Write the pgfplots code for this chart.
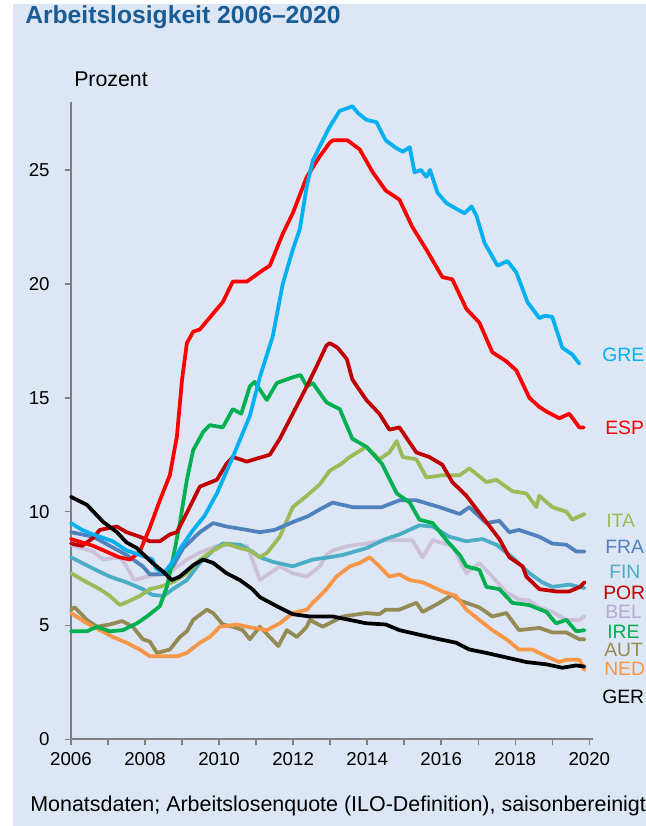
\documentclass[border=0pt]{standalone}
\usepackage{pgfplots}
\pgfplotsset{compat=1.18}
\usepackage{fontspec}
\setmainfont{Liberation Sans}
\definecolor{bgc}{HTML}{DCE6F4}
\definecolor{titlec}{HTML}{1A5C96}
\definecolor{cGRE}{HTML}{00B0F0}
\definecolor{cESP}{HTML}{FF0000}
\definecolor{cPOR}{HTML}{C00000}
\definecolor{cITA}{HTML}{9BBB59}
\definecolor{cFRA}{HTML}{4F81BD}
\definecolor{cFIN}{HTML}{4BACC6}
\definecolor{cBEL}{HTML}{CCC0DA}
\definecolor{cBELt}{HTML}{B9A8CF}
\definecolor{cIRE}{HTML}{00B050}
\definecolor{cAUT}{HTML}{948A54}
\definecolor{cNED}{HTML}{F79646}
\definecolor{cGER}{HTML}{000000}
\begin{document}
\begin{tikzpicture}[x=0.75pt,y=0.75pt]
\path[use as bounding box] (0,0) rectangle (646,826);
\begin{scope}
\clip (0,0) rectangle (646,826);
\fill[white] (0,0) rectangle (646,826);
\fill[bgc] (13,0) rectangle (646,822);
\node[anchor=base west,inner sep=0,text=titlec,font=\bfseries\fontsize{18.5}{20}\selectfont] at (25,826-24) {Arbeitslosigkeit 2006–2020};
\node[anchor=base west,inner sep=0,font=\fontsize{16}{18}\selectfont] at (74,826-87) {Prozent};
\node[anchor=base west,inner sep=0,font=\fontsize{16.1}{18}\selectfont] at (30,826-812) {Monatsdaten; Arbeitslosenquote (ILO-Definition), saisonbereinigt};
\begin{scope}[every node/.style={anchor=base west,inner sep=0,font=\fontsize{14.5}{16}\selectfont}]
\node[text=cGRE] at (602,826-362) {GRE};
\node[text=cESP] at (605,826-435) {ESP};
\node[text=cITA] at (606,826-528) {ITA};
\node[text=cFRA] at (605,826-554) {FRA};
\node[text=cFIN] at (609,826-579) {FIN};
\node[text=cPOR] at (603,826-600) {POR};
\node[text=cBELt] at (605,826-619) {BEL};
\node[text=cIRE] at (607,826-639) {IRE};
\node[text=cAUT] at (604,826-657) {AUT};
\node[text=cNED] at (604,826-676) {NED};
\node[text=cGER] at (602,826-704) {GER};
\end{scope}
\end{scope}
\begin{axis}[
  at={(53.25pt,64.875pt)}, anchor=south west,
  scale only axis, width=391.5pt, height=478.4pt,
  xmin=2006, xmax=2020.1, ymin=0, ymax=28,
  axis lines=left, axis line style={-, draw=gray, line width=1.5pt},
  xtick={2006,2008,...,2020}, minor xtick={2007,2009,...,2019},
  ytick={0,5,...,25},
  tick align=outside, major tick length=4.5pt, minor tick length=4.5pt,
  every tick/.style={draw=gray, line width=1.1pt},
  tick label style={font=\fontsize{14}{16}\selectfont},
  /pgf/number format/assume math mode=true,
  xticklabel style={/pgf/number format/1000 sep={}, yshift=-2pt},
  yticklabel style={xshift=-8pt},
  clip=false,
  every axis plot/.append style={line width=2.8pt, line join=round, line cap=round, mark=none},
]
\addplot[cBEL] coordinates {(2006.0,8.55) (2006.6,8.25) (2006.87,7.9) (2007.32,8.0) (2007.5,7.6) (2007.7,7.0) (2008.05,7.15) (2008.4,7.25) (2008.67,7.35) (2009.13,7.9) (2009.48,8.2) (2009.94,8.5) (2010.37,8.55) (2010.75,8.5) (2010.9,7.9) (2011.1,7.0) (2011.37,7.3) (2011.64,7.6) (2011.99,7.3) (2012.37,7.15) (2012.72,7.6) (2012.9,8.1) (2013.07,8.3) (2013.5,8.5) (2013.98,8.6) (2014.5,8.75) (2015.22,8.75) (2015.5,8.0) (2015.77,8.75) (2016.3,8.5) (2016.68,7.3) (2017.03,7.75) (2017.38,7.15) (2017.76,6.45) (2018.1,6.15) (2018.38,6.1) (2018.65,5.8) (2019.0,5.6) (2019.38,5.25) (2019.73,5.25) (2019.87,5.4)};
\addplot[cAUT] coordinates {(2006.0,5.7) (2006.1,5.8) (2006.43,5.25) (2006.7,4.95) (2007.05,5.05) (2007.38,5.2) (2007.67,4.95) (2007.94,4.4) (2008.13,4.3) (2008.32,3.8) (2008.67,3.95) (2008.94,4.5) (2009.13,4.75) (2009.3,5.25) (2009.67,5.7) (2009.84,5.55) (2010.1,5.05) (2010.37,4.95) (2010.64,4.8) (2010.83,4.4) (2011.1,4.95) (2011.37,4.5) (2011.6,4.1) (2011.83,4.8) (2012.1,4.5) (2012.37,4.95) (2012.45,5.25) (2012.8,4.95) (2013.34,5.4) (2013.98,5.55) (2014.33,5.5) (2014.5,5.7) (2014.87,5.7) (2015.33,6.0) (2015.5,5.6) (2015.95,6.0) (2016.3,6.35) (2016.5,6.1) (2017.03,5.8) (2017.38,5.4) (2017.76,5.55) (2018.1,4.8) (2018.65,4.9) (2019.0,4.7) (2019.38,4.7) (2019.73,4.4) (2019.87,4.4)};
\addplot[cNED] coordinates {(2006.0,5.55) (2006.43,5.1) (2006.78,4.8) (2007.13,4.5) (2007.5,4.25) (2007.86,3.95) (2008.13,3.65) (2008.5,3.65) (2008.86,3.65) (2009.13,3.8) (2009.48,4.25) (2009.75,4.5) (2010.02,4.95) (2010.48,5.05) (2010.75,4.95) (2011.29,4.8) (2011.64,5.1) (2011.99,5.55) (2012.37,5.7) (2012.53,6.0) (2012.72,6.3) (2012.9,6.6) (2013.17,7.15) (2013.53,7.6) (2013.8,7.75) (2014.07,8.0) (2014.33,7.6) (2014.6,7.15) (2014.87,7.25) (2015.15,7.0) (2015.5,6.9) (2015.77,6.7) (2016.03,6.5) (2016.4,6.3) (2016.68,5.7) (2017.03,5.25) (2017.38,4.8) (2017.76,4.4) (2018.1,3.95) (2018.46,3.95) (2018.84,3.65) (2019.19,3.4) (2019.38,3.5) (2019.73,3.5) (2019.87,3.05)};
\addplot[cFIN] coordinates {(2006.0,8.0) (2006.6,7.5) (2007.05,7.15) (2007.5,6.9) (2007.94,6.6) (2008.2,6.35) (2008.5,6.3) (2008.75,6.6) (2009.13,7.0) (2009.48,7.75) (2009.84,8.3) (2010.1,8.6) (2010.56,8.55) (2010.9,8.25) (2011.1,8.0) (2011.45,7.8) (2011.99,7.6) (2012.53,7.9) (2012.99,8.0) (2013.34,8.1) (2013.98,8.4) (2014.5,8.8) (2014.87,9.0) (2015.41,9.4) (2015.77,9.35) (2016.22,8.9) (2016.68,8.7) (2017.11,8.8) (2017.49,8.55) (2017.92,8.0) (2018.38,7.3) (2018.73,6.9) (2019.0,6.7) (2019.46,6.8) (2019.87,6.65)};
\addplot[cITA] coordinates {(2006.0,7.3) (2006.43,6.9) (2006.78,6.6) (2007.05,6.3) (2007.32,5.9) (2007.6,6.1) (2007.86,6.3) (2008.13,6.6) (2008.4,6.7) (2008.75,6.9) (2009.13,7.3) (2009.48,7.9) (2009.84,8.3) (2010.2,8.6) (2010.56,8.4) (2010.83,8.3) (2011.1,8.0) (2011.3,8.2) (2011.64,8.9) (2011.99,10.2) (2012.37,10.7) (2012.72,11.2) (2012.99,11.8) (2013.3,12.1) (2013.53,12.4) (2013.98,12.85) (2014.33,12.3) (2014.6,12.6) (2014.8,13.1) (2014.96,12.4) (2015.33,12.3) (2015.6,11.5) (2016.03,11.6) (2016.5,11.6) (2016.76,11.9) (2017.22,11.3) (2017.49,11.4) (2017.92,10.9) (2018.3,10.8) (2018.57,10.2) (2018.65,10.7) (2019.0,10.2) (2019.38,10.0) (2019.54,9.65) (2019.87,9.9)};
\addplot[cFRA] coordinates {(2006.0,9.1) (2006.6,8.9) (2007.05,8.5) (2007.5,8.1) (2007.94,7.6) (2008.13,7.25) (2008.5,7.25) (2008.75,7.6) (2009.03,8.4) (2009.48,9.1) (2009.84,9.5) (2010.2,9.35) (2010.75,9.2) (2011.1,9.1) (2011.5,9.2) (2012.0,9.55) (2012.4,9.8) (2012.72,10.1) (2013.07,10.4) (2013.6,10.2) (2014.0,10.2) (2014.4,10.2) (2014.87,10.5) (2015.33,10.5) (2015.95,10.2) (2016.5,9.9) (2016.76,10.2) (2017.22,9.5) (2017.57,9.6) (2017.84,9.1) (2018.1,9.2) (2018.65,8.9) (2019.0,8.6) (2019.38,8.55) (2019.65,8.25) (2019.87,8.25)};
\addplot[cIRE] coordinates {(2006.0,4.75) (2006.43,4.75) (2006.7,4.95) (2007.05,4.75) (2007.4,4.8) (2007.78,5.1) (2008.05,5.4) (2008.4,5.85) (2008.59,6.7) (2008.75,7.9) (2008.94,9.5) (2009.13,11.4) (2009.3,12.7) (2009.57,13.5) (2009.75,13.8) (2010.1,13.7) (2010.37,14.5) (2010.6,14.3) (2010.83,15.5) (2010.96,15.7) (2011.29,14.9) (2011.56,15.65) (2011.99,15.9) (2012.2,16.0) (2012.37,15.5) (2012.53,15.65) (2012.9,14.8) (2013.26,14.5) (2013.6,13.2) (2013.98,12.85) (2014.4,12.1) (2014.8,10.8) (2015.15,10.4) (2015.41,9.65) (2015.77,9.5) (2016.14,8.75) (2016.5,8.1) (2016.68,7.6) (2017.03,7.45) (2017.22,6.7) (2017.57,6.6) (2017.92,6.0) (2018.38,5.9) (2018.84,5.6) (2019.1,5.1) (2019.38,5.25) (2019.65,4.75) (2019.87,4.8)};
\addplot[cPOR] coordinates {(2006.0,8.6) (2006.3,8.5) (2006.6,8.85) (2006.78,9.2) (2007.24,9.35) (2007.5,9.1) (2007.86,8.9) (2008.13,8.7) (2008.4,8.7) (2008.67,9.0) (2008.86,9.1) (2009.13,9.95) (2009.48,11.1) (2009.94,11.4) (2010.2,12.1) (2010.37,12.4) (2010.75,12.2) (2011.37,12.5) (2011.64,13.2) (2011.99,14.3) (2012.37,15.5) (2012.64,16.4) (2012.9,17.3) (2012.99,17.4) (2013.2,17.2) (2013.45,16.7) (2013.6,15.8) (2013.98,14.9) (2014.33,14.3) (2014.6,13.6) (2014.87,13.7) (2015.33,12.6) (2015.68,12.4) (2016.03,12.06) (2016.3,11.3) (2016.68,10.7) (2017.03,9.95) (2017.57,8.8) (2017.84,8.0) (2018.2,7.6) (2018.3,7.15) (2018.65,6.6) (2019.1,6.5) (2019.46,6.5) (2019.75,6.7) (2019.87,6.9)};
\addplot[cESP] coordinates {(2006.0,8.8) (2006.6,8.5) (2007.3,8.0) (2007.6,7.9) (2007.86,8.25) (2008.13,9.3) (2008.4,10.5) (2008.67,11.6) (2008.86,13.3) (2009.0,15.8) (2009.13,17.4) (2009.3,17.9) (2009.48,18.0) (2009.84,18.7) (2010.1,19.2) (2010.37,20.1) (2010.75,20.1) (2011.18,20.6) (2011.37,20.8) (2011.72,22.2) (2011.99,23.1) (2012.37,24.7) (2012.72,25.6) (2012.99,26.2) (2013.07,26.3) (2013.47,26.3) (2013.8,25.9) (2014.15,24.9) (2014.5,24.1) (2014.87,23.7) (2015.22,22.5) (2015.6,21.5) (2016.03,20.3) (2016.3,20.2) (2016.68,18.9) (2017.03,18.3) (2017.38,17.0) (2017.76,16.6) (2018.03,16.2) (2018.38,15.0) (2018.65,14.6) (2018.84,14.4) (2019.19,14.1) (2019.46,14.3) (2019.73,13.7) (2019.85,13.7)};
\addplot[cGRE] coordinates {(2006.0,9.5) (2006.3,9.2) (2006.6,9.0) (2006.87,8.85) (2007.13,8.7) (2007.5,8.3) (2007.86,8.1) (2008.2,7.9) (2008.3,7.5) (2008.5,7.3) (2008.75,7.8) (2009.0,8.5) (2009.3,9.2) (2009.6,9.8) (2009.94,10.8) (2010.37,12.4) (2010.83,14.2) (2011.1,15.9) (2011.45,17.7) (2011.72,20.0) (2011.99,21.5) (2012.18,22.4) (2012.37,24.3) (2012.53,25.4) (2012.8,26.3) (2012.99,26.9) (2013.26,27.6) (2013.45,27.7) (2013.6,27.8) (2013.75,27.5) (2013.98,27.2) (2014.25,27.1) (2014.5,26.3) (2014.75,26.0) (2014.96,25.8) (2015.15,26.0) (2015.28,24.9) (2015.45,25.0) (2015.6,24.7) (2015.7,25.0) (2015.9,24.0) (2016.14,23.55) (2016.4,23.3) (2016.63,23.1) (2016.82,23.4) (2016.95,23.0) (2017.17,21.8) (2017.52,20.8) (2017.79,21.0) (2018.03,20.5) (2018.33,19.2) (2018.65,18.5) (2018.8,18.6) (2019.0,18.55) (2019.27,17.2) (2019.54,16.9) (2019.73,16.5)};
\addplot[cGER] coordinates {(2006.0,10.65) (2006.43,10.3) (2006.87,9.55) (2007.24,9.1) (2007.5,8.65) (2007.78,8.4) (2008.2,7.75) (2008.5,7.35) (2008.72,7.0) (2008.94,7.15) (2009.3,7.65) (2009.57,7.9) (2009.84,7.75) (2010.2,7.3) (2010.56,7.0) (2010.9,6.6) (2011.1,6.25) (2011.56,5.85) (2011.99,5.5) (2012.45,5.4) (2013.07,5.4) (2013.98,5.1) (2014.5,5.05) (2014.87,4.8) (2015.41,4.6) (2015.95,4.4) (2016.4,4.25) (2016.76,3.95) (2017.22,3.8) (2017.76,3.6) (2018.3,3.4) (2018.84,3.3) (2019.27,3.15) (2019.65,3.25) (2019.87,3.2)};
\end{axis}
\end{tikzpicture}
\end{document}
